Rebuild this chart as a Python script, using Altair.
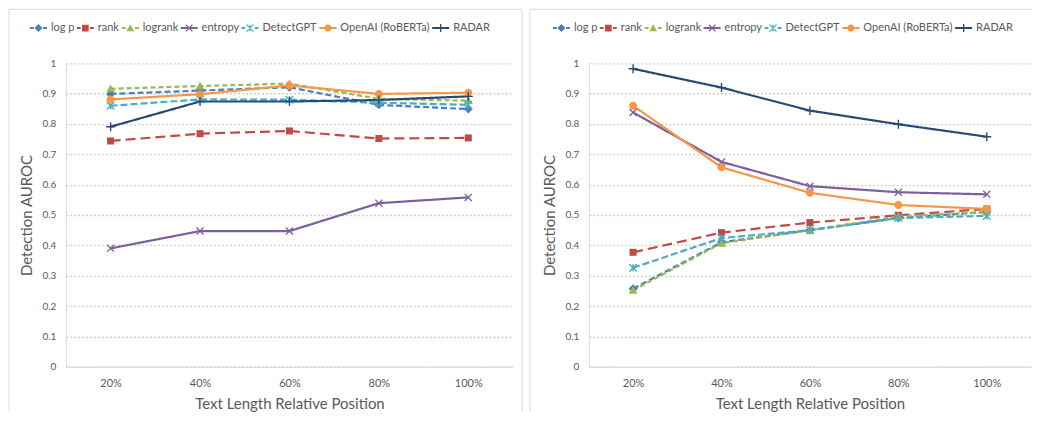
import altair as alt
import pandas as pd

# ---------------- data ----------------
positions = ["20%", "40%", "60%", "80%", "100%"]
series_names = ["log p", "rank", "logrank", "entropy", "DetectGPT", "OpenAI (RoBERTa)", "RADAR"]

left_logp = [0.899, 0.910, 0.921, 0.863, 0.849]
left_rank = [0.744, 0.768, 0.777, 0.752, 0.754]
left_logrank = [0.916, 0.925, 0.933, 0.883, 0.877]
left_entropy = [0.390, 0.447, 0.447, 0.539, 0.558]
left_detectgpt = [0.860, 0.881, 0.880, 0.870, 0.863]
left_openai = [0.881, 0.898, 0.927, 0.899, 0.903]
left_radar = [0.791, 0.874, 0.874, 0.879, 0.891]

right_logp = [0.257, 0.410, 0.450, 0.490, 0.510]
right_rank = [0.377, 0.442, 0.475, 0.499, 0.520]
right_logrank = [0.252, 0.407, 0.450, 0.495, 0.510]
right_entropy = [0.838, 0.675, 0.595, 0.575, 0.568]
right_detectgpt = [0.326, 0.424, 0.450, 0.490, 0.497]
right_openai = [0.860, 0.657, 0.573, 0.533, 0.520]
right_radar = [0.982, 0.920, 0.844, 0.799, 0.758]

y_ticks = [0, 0.1, 0.2, 0.3, 0.4, 0.5, 0.6, 0.7, 0.8, 0.9, 1]

# ---------------- styles ----------------
colors = ["#4A7EBB", "#BE4B48", "#98B954", "#7D5FA0", "#4BACC6", "#F79646", "#254A75"]
dashes = [[6, 3], [10, 5], [5, 3], [1, 0], [7, 3], [1, 0], [1, 0]]
marker_kinds = ["diamond", "square", "triangle", "x", "star", "circle", "plus"]
is_dashed = [True, True, True, False, True, False, False]

TEXT = "#595959"
FONT = "Lato"


def f(v):
    s = f"{v:.3f}".rstrip("0").rstrip(".")
    return "0" if s in ("-0", "") else s


def marker_path(kind, r, t):
    if kind == "diamond":
        return f"M0,{f(-r)}L{f(r)},0L0,{f(r)}L{f(-r)},0Z"
    if kind == "square":
        return f"M{f(-r)},{f(-r)}H{f(r)}V{f(r)}H{f(-r)}Z"
    if kind == "triangle":
        return f"M0,{f(-r)}L{f(r)},{f(0.8*r)}H{f(-r)}Z"
    if kind == "circle":
        return f"M{f(r)},0A{f(r)},{f(r)},0,1,1,{f(-r)},0A{f(r)},{f(r)},0,1,1,{f(r)},0Z"
    e = t / 2 ** 0.5
    xs = (f"M{f(-r+e)},{f(-r-e)}L{f(r+e)},{f(r-e)}L{f(r-e)},{f(r+e)}L{f(-r-e)},{f(-r+e)}Z"
          f"M{f(-r-e)},{f(r-e)}L{f(r-e)},{f(-r-e)}L{f(r+e)},{f(-r+e)}L{f(-r+e)},{f(r+e)}Z")
    vbar = f"M{f(-t)},{f(-r)}H{f(t)}V{f(r)}H{f(-t)}Z"
    hbar = f"M{f(-r)},{f(-t)}H{f(r)}V{f(t)}H{f(-r)}Z"
    if kind == "x":
        return xs
    if kind == "star":
        return xs + vbar
    if kind == "plus":
        return hbar + vbar
    return ""


plot_radius = {"diamond": 1.12, "square": 0.88, "triangle": 1.1, "circle": 1.0,
               "x": 0.88, "star": 0.95, "plus": 1.12}
legend_radius = {"diamond": 0.47, "square": 0.39, "triangle": 0.46, "circle": 0.42,
                 "x": 0.39, "star": 0.41, "plus": 0.47}

plot_shapes = [marker_path(k, plot_radius[k], 0.17) for k in marker_kinds]


def legend_shape(kind, dashed):
    h = 0.12
    if dashed:
        line = f"M-1,{f(-h)}H-0.55V{f(h)}H-1Z M0.55,{f(-h)}H1V{f(h)}H0.55Z"
    else:
        line = f"M-1,{f(-h)}H1V{f(h)}H-1Z"
    return line + marker_path(kind, legend_radius[kind], 0.075)


legend_shapes = [legend_shape(k, d) for k, d in zip(marker_kinds, is_dashed)]


def make_df(cols):
    rows = []
    for name, vals in zip(series_names, cols):
        for p, v in zip(positions, vals):
            rows.append({"series": name, "pos": p, "value": v})
    return pd.DataFrame(rows)


left_df = make_df([left_logp, left_rank, left_logrank, left_entropy,
                   left_detectgpt, left_openai, left_radar])
right_df = make_df([right_logp, right_rank, right_logrank, right_entropy,
                    right_detectgpt, right_openai, right_radar])

PLOT_H = 304


def panel(df, plot_w, frame_left, frame_right, legend_x, draw_right_edge):
    x = alt.X("pos:N", sort=positions,
              scale=alt.Scale(type="band", domain=positions, paddingInner=0, paddingOuter=0),
              bandPosition=0.5,
              axis=alt.Axis(title="Text Length Relative Position", tickBand="extent",
                            labelAngle=0, ticks=False, tickSize=0, labelPadding=11,
                            titlePadding=8, labelFontSize=11, titleFontSize=15))
    y = alt.Y("value:Q", scale=alt.Scale(domain=[0, 1], nice=False, zero=True),
              axis=alt.Axis(title="Detection AUROC", values=y_ticks, format=".1~f",
                            ticks=False, tickSize=0, labelPadding=10, titlePadding=7,
                            labelFontSize=10, titleFontSize=15))
    color = alt.Color("series:N", scale=alt.Scale(domain=series_names, range=colors), legend=None)

    lines = alt.Chart(df).mark_line(strokeWidth=2.2).encode(
        x=x, y=y, color=color,
        strokeDash=alt.StrokeDash("series:N", scale=alt.Scale(domain=series_names, range=dashes),
                                  legend=None))
    points = alt.Chart(df).mark_point(filled=True, opacity=1, size=64, strokeWidth=0).encode(
        x=x, y=y, color=color,
        shape=alt.Shape("series:N", scale=alt.Scale(domain=series_names, range=plot_shapes),
                        legend=None))

    leg = alt.Legend(title=None, orient="none", direction="horizontal",
                     legendX=legend_x, legendY=-44, symbolSize=289, labelOffset=4,
                     columnPadding=2, padding=0, labelFont=FONT, labelFontSize=11,
                     labelColor=TEXT, symbolStrokeWidth=0)
    legend_layer = alt.Chart(df).transform_filter("false").mark_point(
        filled=True, opacity=1, size=289, strokeWidth=0).encode(
        color=alt.Color("series:N", scale=alt.Scale(domain=series_names, range=colors), legend=leg),
        shape=alt.Shape("series:N", scale=alt.Scale(domain=series_names, range=legend_shapes),
                        legend=leg))

    frame_src = alt.Chart(alt.Data(values=[{}]))
    fcol = "#d9d9d9"
    top = frame_src.mark_rule(color=fcol, strokeWidth=1).encode(
        x=alt.value(frame_left), x2=alt.value(frame_right), y=alt.value(-54))
    leftr = frame_src.mark_rule(color=fcol, strokeWidth=1).encode(
        x=alt.value(frame_left), y=alt.value(-54), y2=alt.value(349))
    layers = [top, leftr]
    if draw_right_edge:
        layers.append(frame_src.mark_rule(color=fcol, strokeWidth=1).encode(
            x=alt.value(frame_right), y=alt.value(-54), y2=alt.value(349)))
    layers += [lines, points, legend_layer]
    return alt.layer(*layers).resolve_scale(color="independent", shape="independent").properties(
        width=plot_w, height=PLOT_H)


left = panel(left_df, 448, -57, 457, -36, True)
right = panel(right_df, 443, -59, 443, -36, False)

chart = alt.hconcat(left, right, spacing=6).properties(padding=0).configure_view(
    stroke=None
).configure_axis(
    labelFont=FONT, titleFont=FONT, labelColor=TEXT, titleColor=TEXT,
    titleFontWeight="normal", domainColor="#d9d9d9", domainWidth=1,
    gridColor="#cfcfcf", gridDash=[2, 2], gridWidth=1.3
)

chart.save("out.html", embed_options={"renderer": "svg", "actions": False})
